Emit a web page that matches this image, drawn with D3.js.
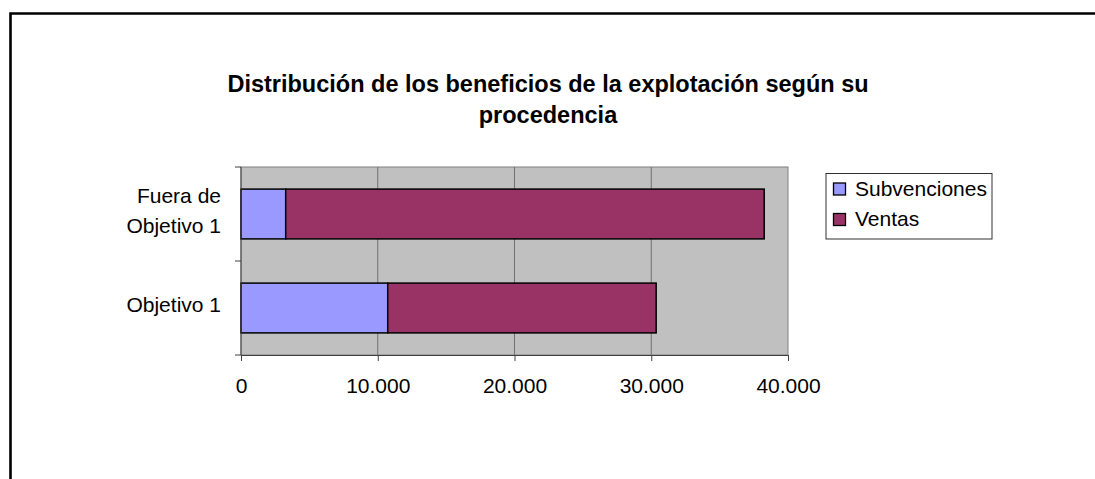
<!DOCTYPE html>
<html><head><meta charset="utf-8">
<script src="https://cdn.jsdelivr.net/npm/d3@7"></script>
<style>body{margin:0;background:#fff;overflow:hidden}svg{display:block}text{font-family:"Liberation Sans",Arial,sans-serif}</style>
</head><body><svg id="c" width="1095" height="479"></svg>
<script>
const categories = ["Fuera de Objetivo 1", "Objetivo 1"];
const categoryLines = [["Fuera de", "Objetivo 1"], ["Objetivo 1"]];
const seriesNames = ["Subvenciones", "Ventas"];
const subvenciones = [3270, 10730];
const ventas = [34990, 19630];
const xTicks = [0, 10000, 20000, 30000, 40000];
const xTickLabels = ["0", "10.000", "20.000", "30.000", "40.000"];
const titleLines = ["Distribución de los beneficios de la explotación según su", "procedencia"];
const colors = ["#9999FF", "#993366"];

const svg = d3.select("#c");
// outer frame (only top and left edges are visible in the crop)
svg.append("path").attr("d", "M10.5,479 L10.5,13.5 L1095,13.5")
  .attr("fill", "none").attr("stroke", "#000").attr("stroke-width", 2.6);

const L = 241, R = 788, T = 167, B = 355;
const x = d3.scaleLinear().domain([0, 40000]).range([L, R]);
const y = d3.scaleBand().domain(categories).range([T, B]).paddingInner(0.47).paddingOuter(0.235);

svg.append("rect").attr("x", L).attr("y", T).attr("width", R - L).attr("height", B - T)
  .attr("fill", "#C0C0C0").attr("stroke", "#808080").attr("stroke-width", 1);

// gridlines
svg.append("g").selectAll("line").data(xTicks.slice(1, -1)).join("line")
  .attr("x1", d => x(d)).attr("x2", d => x(d)).attr("y1", T).attr("y2", B)
  .attr("stroke", "#707070").attr("stroke-width", 1);

// stacked bars
const data = categories.map((c, i) => ({cat: c, vals: [subvenciones[i], ventas[i]]}));
const stack = d3.stack().keys([0, 1]).value((d, k) => d.vals[k]);
const stacked = stack(data);
stacked.forEach((s, k) => {
  svg.append("g").selectAll("rect").data(s).join("rect")
    .attr("x", d => x(d[0])).attr("width", d => x(d[1]) - x(d[0]))
    .attr("y", d => y(d.data.cat)).attr("height", y.bandwidth())
    .attr("fill", colors[k]).attr("stroke", "#000").attr("stroke-width", 1.5);
});

// axes
const xAxis = d3.axisBottom(x).tickValues(xTicks).tickFormat((d, i) => xTickLabels[i]).tickSize(6).tickSizeOuter(0);
const gx = svg.append("g").attr("transform", `translate(0,${B})`).call(xAxis);
gx.select(".domain").attr("stroke", "#404040");
gx.selectAll(".tick line").attr("stroke", "#404040");
gx.selectAll(".tick text").attr("font-size", 21).attr("fill", "#000").attr("dy", null).attr("y", 38)
  .attr("font-family", '"Liberation Sans",Arial,sans-serif');

const gy = svg.append("g").attr("transform", `translate(${L},0)`);
gy.append("line").attr("x1", 0).attr("x2", 0).attr("y1", T).attr("y2", B).attr("stroke", "#404040");
const bandTicks = [T, T + (B - T) / 2, B];
gy.selectAll("line.t").data(bandTicks).join("line").attr("class", "t")
  .attr("x1", -6).attr("x2", 0).attr("y1", d => d).attr("y2", d => d).attr("stroke", "#404040");

categories.forEach((c, i) => {
  const cy = y(c) + y.bandwidth() / 2;
  const lines = categoryLines[i];
  const n = lines.length;
  lines.forEach((ln, j) => {
    svg.append("text").attr("x", 221).attr("y", cy + 4 + (j - (n - 1) / 2) * 29.5)
      .attr("text-anchor", "end").attr("font-size", 21).text(ln);
  });
});

// title
titleLines.forEach((t, i) => {
  svg.append("text").attr("x", 548).attr("y", 92 + i * 31).attr("text-anchor", "middle")
    .attr("font-size", 23.5).attr("font-weight", "bold").text(t);
});

// legend
const lg = svg.append("g");
lg.append("rect").attr("x", 826).attr("y", 173.5).attr("width", 166).attr("height", 65.5)
  .attr("fill", "#fff").attr("stroke", "#303030").attr("stroke-width", 1);
seriesNames.forEach((n, i) => {
  const yy = 183 + i * 30.5;
  lg.append("rect").attr("x", 833.5).attr("y", yy).attr("width", 12).attr("height", 12)
    .attr("fill", colors[i]).attr("stroke", "#000").attr("stroke-width", 1.3);
  lg.append("text").attr("x", 855).attr("y", yy + 12.5).attr("font-size", 21).text(n);
});
</script></body></html>
